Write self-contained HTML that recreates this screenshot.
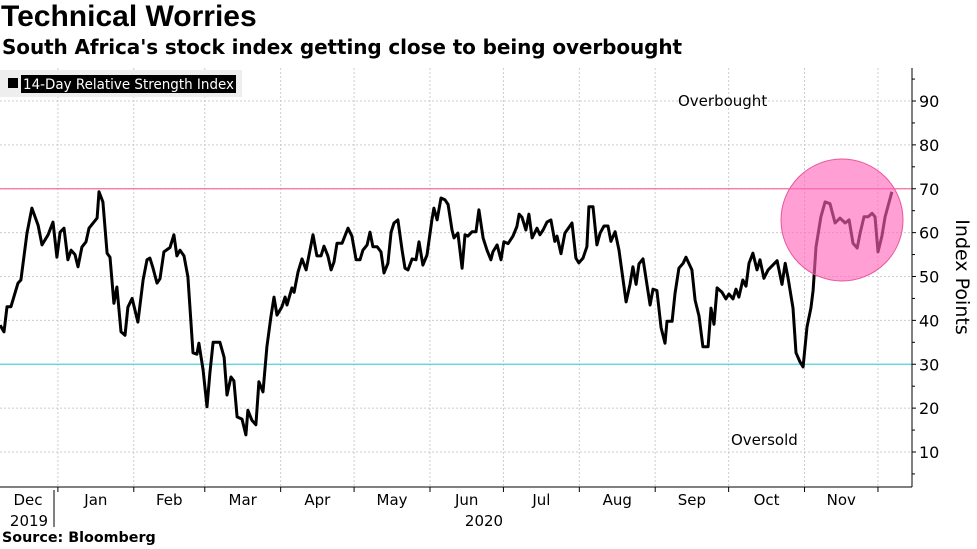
<!DOCTYPE html>
<html><head><meta charset="utf-8">
<style>
html,body{margin:0;padding:0;background:#fff;}
body{width:977px;height:549px;overflow:hidden;position:relative;font-family:"Liberation Sans","DejaVu Sans",sans-serif;}
.t{position:absolute;left:1px;top:0px;font-size:30px;font-weight:bold;color:#000;}
.s{position:absolute;left:2px;top:35px;font-size:20px;font-weight:bold;color:#000;font-family:"DejaVu Sans",sans-serif;letter-spacing:-0.1px;white-space:nowrap}
.src{position:absolute;left:2px;top:530px;font-size:14.3px;font-weight:bold;font-family:"DejaVu Sans",sans-serif;}
</style></head><body>
<div class="t">Technical Worries</div>
<div class="s">South Africa's stock index getting close to being overbought</div>
<svg id="chart" width="977" height="549" style="position:absolute;left:0;top:0" font-family="DejaVu Sans, Liberation Sans, sans-serif"></svg>
<div class="src">Source: Bloomberg</div>
<script>
// days since 2019-12-01
const days=[7.4,9.0,10.2,11.8,14.7,15.9,18.4,20.4,22.9,24.5,27.0,29.0,30.6,31.9,33.5,35.1,36.4,38.0,39.2,40.8,42.5,43.7,47.0,47.8,49.4,51.1,52.3,53.9,55.1,56.8,58.4,59.6,61.3,63.7,65.8,67.4,68.6,69.8,71.5,72.7,74.3,76.8,78.4,79.6,80.9,82.5,84.1,86.2,87.8,88.6,90.3,91.9,93.1,94.4,97.2,98.9,100.1,101.7,102.9,104.2,106.2,107.8,108.6,110.3,111.9,113.1,114.8,116.4,118.0,119.3,120.5,122.5,123.8,124.6,126.6,127.5,129.1,130.7,132.4,135.2,136.8,138.5,139.7,141.3,142.6,143.8,145.0,147.1,149.5,151.1,152.8,154.4,155.6,157.3,158.5,159.7,161.4,163.0,164.2,165.8,167.1,168.3,169.9,171.6,172.8,174.0,175.7,177.3,178.5,180.1,181.8,183.8,184.6,185.9,187.5,189.1,190.4,192.0,192.8,194.4,196.1,197.3,198.5,200.2,201.8,203.0,204.7,206.3,207.9,208.7,210.4,212.0,213.2,214.9,216.9,218.5,219.4,220.6,222.2,223.4,224.7,226.7,227.9,229.2,230.8,232.4,234.0,234.9,236.5,238.1,241.0,242.6,243.8,245.5,247.1,247.9,249.6,251.2,252.5,254.1,255.7,256.9,258.6,260.2,263.1,264.7,265.9,267.2,268.4,270.0,272.9,274.1,275.7,277.4,279.0,279.8,281.9,283.1,284.7,286.4,287.6,290.0,291.3,292.9,294.5,296.6,297.8,299.0,300.3,302.3,303.9,305.1,306.8,308.0,309.2,310.8,312.1,313.3,314.9,316.6,317.8,319.4,321.1,324.8,326.8,328.1,329.3,331.3,332.5,334.2,335.4,337.0,338.6,339.5,340.7,342.7,344.4,346.4,348.5,350.5,352.6,354.2,355.8,357.5,358.7,360.3,362.0,363.6,364.8,366.0,367.6,368.9,371.7];
const rsi=[38.9,37.4,43.1,43.1,48.5,49.2,59.9,65.6,61.7,57.2,59.5,62.4,54.4,60.1,61,53.8,56,55,52.2,56.7,57.9,61,63.3,69.3,67,55.3,54.4,43.9,47.6,37.4,36.6,43,45,39.6,49.2,53.8,54.2,52,48.5,49.5,55.6,56.6,59.5,54.7,56,54.7,49.9,32.6,32.3,34.8,28.7,20.3,28,35,35,31.6,23,27.1,26.2,18,17.5,13.9,19.5,17.2,16.2,26,23.7,34,40.8,45.3,41.2,43.1,45.3,43.5,47.4,46.4,51,54,51.5,59.5,54.7,54.7,56.9,54.7,51.5,53.3,57.6,57.6,61,59.2,53.8,53.8,56,57.2,60.1,56.8,56.8,55.6,50.8,53,60.1,62.2,62.9,56,51.9,51.5,54,53.8,57.9,52.6,54.9,62.9,65.6,62.9,67.9,67.5,66.4,60.6,58.8,59.9,51.9,59.5,59.2,60.2,60.2,65.2,58.8,56,53.8,55.6,57.2,53.8,57.9,57.5,59.2,61.4,64.2,63.5,60.6,64.2,58.8,61,59.5,60.6,62.4,62.9,58,59.2,55.2,59.9,62.2,54.2,53.1,54.2,56.8,65.9,65.9,57.2,59.9,61.5,61.5,58,60.2,56,44.2,48.2,52.2,48.2,52.9,54,43.5,47.1,46.8,38.3,34.8,39.8,39.8,46.1,51.9,53,54.4,51.5,44.6,41,34,34,42.8,39.1,47.4,46.4,44.9,46,44.9,47.1,45.3,49.2,47.8,53,55.3,51.5,53.8,49.6,51.5,53.6,48.2,53,49.6,42.8,32.6,30.5,29.4,38.5,42.8,46.8,56.7,63.6,67,66.6,62.2,63.3,62.2,62.9,57.6,56.5,59.9,63.6,63.6,64.4,63.6,55.6,59.2,63.6,69.3];
const monthLabels=["Dec","Jan","Feb","Mar","Apr","May","Jun","Jul","Aug","Sep","Oct","Nov"];
const monthStarts=[0,31,62,91,122,152,183,213,244,275,305,336,366];
const yTicks=[10,20,30,40,50,60,70,80,90];
const overbought=70, oversold=30;

const NS="http://www.w3.org/2000/svg";
const svg=document.getElementById('chart');
const XR=912, YB=487, YT=68;
const x=d=>d*2.448-18;
const y=v=>452-(v-10)*4.3875;
function mk(tag,attrs,parent){const e=document.createElementNS(NS,tag);for(const k in attrs)e.setAttribute(k,attrs[k]);(parent||svg).appendChild(e);return e;}

yTicks.forEach(v=>{
  const g=mk('line',{x1:0,x2:XR,y1:y(v),y2:y(v),stroke:'#ccc','stroke-dasharray':'2,2','stroke-width':1});
  
  
});
monthStarts.slice(1).forEach(d=>{
  const g=mk('line',{x1:x(d),x2:x(d),y1:YT,y2:YB,stroke:'#ccc','stroke-dasharray':'2,2','stroke-width':1});
  
  
});
const lg=mk('g',{});


mk('rect',{x:0,y:70,width:242,height:27,fill:'#eeeeee'},lg);
mk('rect',{x:8,y:78,width:10,height:10,fill:'#000'},lg);
mk('rect',{x:21,y:75,width:215,height:18,fill:'#000'},lg);
const lt=mk('text',{x:23,y:89,'font-size':14,fill:'#fff',textLength:211,lengthAdjust:'spacingAndGlyphs'},lg);lt.textContent='14-Day Relative Strength Index';
const ob=mk('line',{x1:0,x2:XR,y1:y(overbought),y2:y(overbought),stroke:'#f2709a','stroke-width':1.3});


const os=mk('line',{x1:0,x2:XR,y1:y(oversold),y2:y(oversold),stroke:'#4fd3e0','stroke-width':1.3});


const pts=days.map((d,i)=>x(d).toFixed(1)+','+y(rsi[i]).toFixed(1)).join(' ');
const ln=mk('polyline',{points:pts,fill:'none',stroke:'#000','stroke-width':3,'stroke-linejoin':'round'});


const c=mk('circle',{cx:842,cy:220,r:61,fill:'rgba(255,100,185,0.62)',stroke:'#e8559a','stroke-width':1});


const a1=mk('text',{x:678,y:106,'font-size':15,fill:'#000'});a1.textContent='Overbought';


const a2=mk('text',{x:731,y:445,'font-size':15,fill:'#000'});a2.textContent='Oversold';


mk('line',{x1:0,x2:XR,y1:YB,y2:YB,stroke:'#000','stroke-width':1});
mk('line',{x1:XR,x2:XR,y1:YT,y2:YB,stroke:'#000','stroke-width':1});
for(let v=5;v<=95;v+=5){
  const major=v%10===0;
  mk('line',{x1:XR,x2:XR+(major?4:3),y1:y(v),y2:y(v),stroke:'#000','stroke-width':1});
}
yTicks.forEach(v=>{
  const t=mk('text',{x:919,y:y(v)+6,'font-size':16,fill:'#000'});t.textContent=v;
  
  
});
const yt=mk('text',{x:0,y:0,'font-size':19,fill:'#000','text-anchor':'middle',transform:'translate(956,277) rotate(90)'});yt.textContent='Index Points';


monthStarts.forEach(d=>{ if(d>0&&d<370) mk('line',{x1:x(d),x2:x(d),y1:YB,y2:YB+5,stroke:'#000','stroke-width':1}); });
monthLabels.forEach((m,i)=>{
  const mid=(Math.max(monthStarts[i],7)+monthStarts[i+1])/2;
  const t=mk('text',{x:i===0?28:x(mid),y:505,'font-size':15,fill:'#000','text-anchor':'middle'});t.textContent=m;
  
  
});
mk('line',{x1:54,x2:54,y1:490,y2:527,stroke:'#000','stroke-width':1});
const y1=mk('text',{x:29,y:526,'font-size':15,'text-anchor':'middle'});y1.textContent='2019';


const y2=mk('text',{x:484,y:526,'font-size':15,'text-anchor':'middle'});y2.textContent='2020';


</script>
</body></html>
